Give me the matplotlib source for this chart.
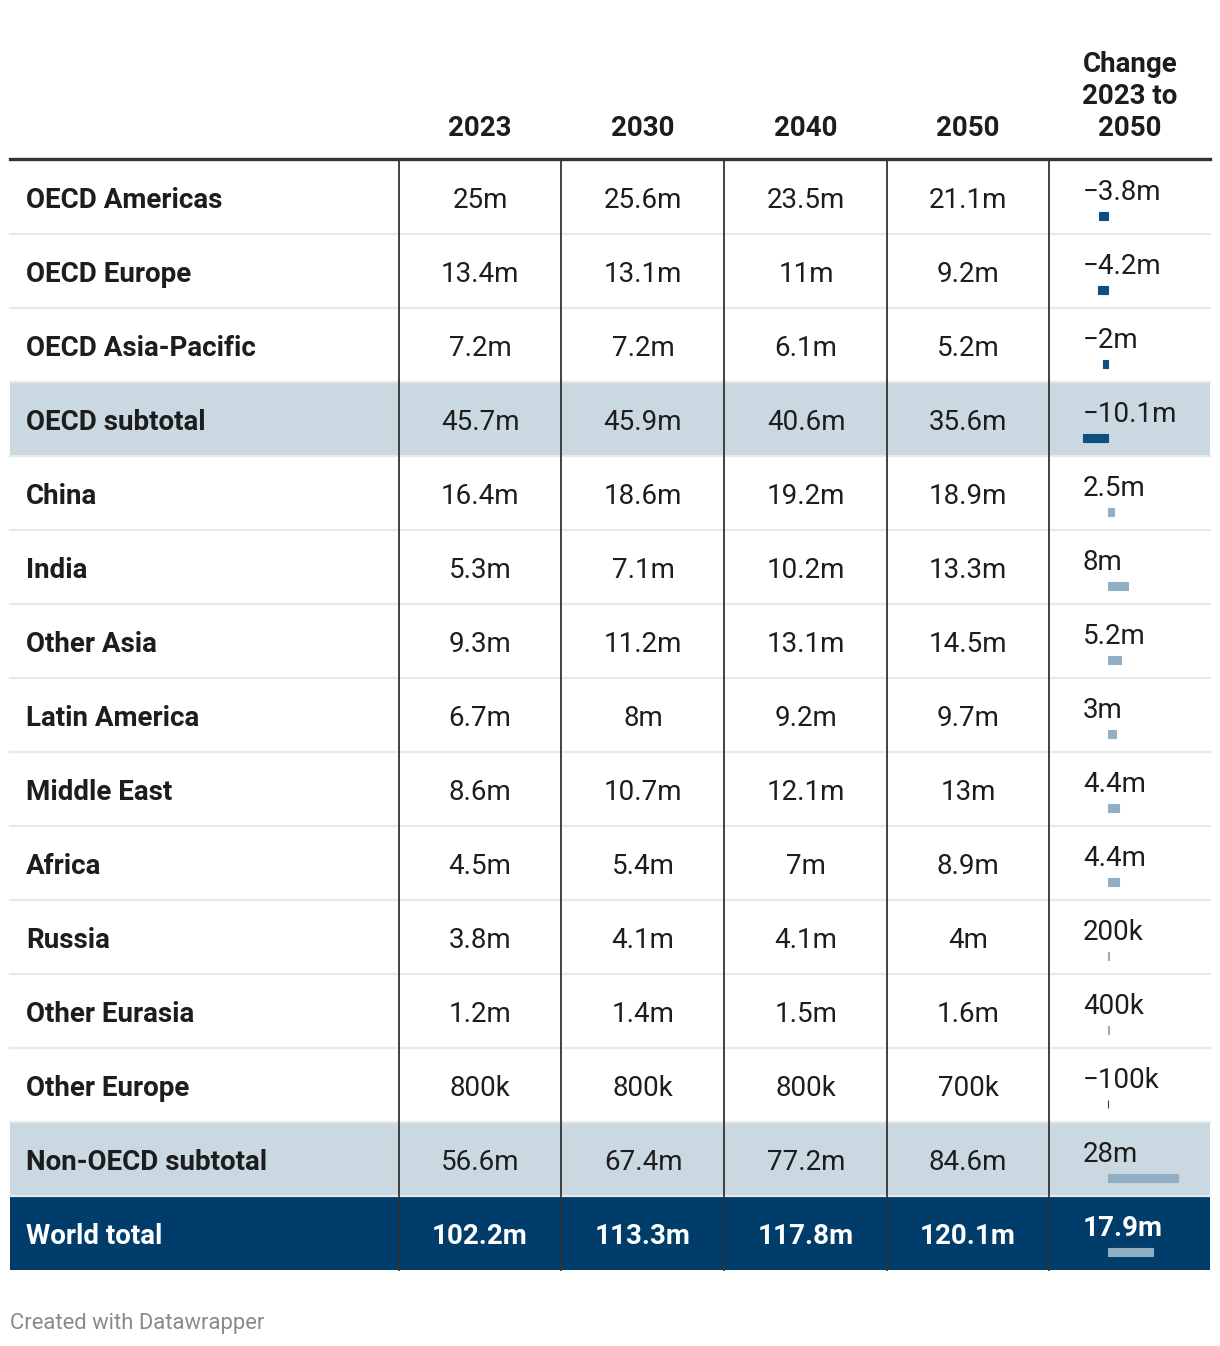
import matplotlib.pyplot
import matplotlib.patches
import numpy

regions = [
	"OECD Americas", "OECD Europe", "OECD Asia-Pacific", "OECD subtotal",
	"China", "India", "Other Asia", "Latin America", "Middle East", "Africa",
	"Russia", "Other Eurasia", "Other Europe", "Non-OECD subtotal", "World total",
]
years = ["2023", "2030", "2040", "2050"]
values = [
	["25m", "25.6m", "23.5m", "21.1m"],
	["13.4m", "13.1m", "11m", "9.2m"],
	["7.2m", "7.2m", "6.1m", "5.2m"],
	["45.7m", "45.9m", "40.6m", "35.6m"],
	["16.4m", "18.6m", "19.2m", "18.9m"],
	["5.3m", "7.1m", "10.2m", "13.3m"],
	["9.3m", "11.2m", "13.1m", "14.5m"],
	["6.7m", "8m", "9.2m", "9.7m"],
	["8.6m", "10.7m", "12.1m", "13m"],
	["4.5m", "5.4m", "7m", "8.9m"],
	["3.8m", "4.1m", "4.1m", "4m"],
	["1.2m", "1.4m", "1.5m", "1.6m"],
	["800k", "800k", "800k", "700k"],
	["56.6m", "67.4m", "77.2m", "84.6m"],
	["102.2m", "113.3m", "117.8m", "120.1m"],
]
change = [-3.8, -4.2, -2.0, -10.1, 2.5, 8.0, 5.2, 3.0, 4.4, 4.4, 0.2, 0.4, -0.1, 28.0, 17.9]
change_labels = [
	"\u22123.8m", "\u22124.2m", "\u22122m", "\u221210.1m", "2.5m", "8m", "5.2m", "3m",
	"4.4m", "4.4m", "200k", "400k", "\u2212100k", "28m", "17.9m",
]
subtotal_rows = [3, 13]
total_row = 14


class Main:
	def __init__(self):
		self.width = 1220
		self.height = 1346
		self.left = 10
		self.right = 1210
		self.top = 160
		self.row_h = 74
		self.dividers = [399, 561, 724, 887, 1049]
		self.centers = [480, 643, 806, 968]
		self.zero_x = 1108
		self.px_per_m = 2.5
		self.fs = 20

		self.figure = None
		self.axes = None
		self.visualize()

	def row_center(self, i):
		return self.top + self.row_h * i + self.row_h / 2 + 4

	def visualize(self):
		matplotlib.pyplot.rcParams["font.family"] = ["Roboto", "DejaVu Sans"]
		self.figure = matplotlib.pyplot.figure(figsize = (self.width / 100, self.height / 100), dpi = 100)
		axes = self.figure.add_axes([0, 0, 1, 1])
		axes.set_xlim(0, self.width)
		axes.set_ylim(self.height, 0)
		axes.axis("off")
		self.axes = axes

		# header
		for j, y in enumerate(years):
			axes.text(self.centers[j], 129, y, ha = "center", va = "center", fontsize = self.fs, fontweight = "bold", color = "#1d1d1d")
		for k, line in enumerate(["Change", "2023 to", "2050"]):
			axes.text(1130, 65 + 32 * k, line, ha = "center", va = "center", fontsize = self.fs, fontweight = "bold", color = "#1d1d1d")

		bottom = self.top + self.row_h * len(regions)

		# row backgrounds and separators
		for i in range(len(regions)):
			y0 = self.top + self.row_h * i
			if i in subtotal_rows:
				axes.add_patch(matplotlib.patches.Rectangle((self.left, y0), self.right - self.left, self.row_h, facecolor = "#c9d8e1", edgecolor = "none", zorder = 0))
			elif i == total_row:
				axes.add_patch(matplotlib.patches.Rectangle((self.left, y0), self.right - self.left, self.row_h, facecolor = "#003d6b", edgecolor = "none", zorder = 0))
			if i > 0:
				axes.plot([self.left, self.right], [y0, y0], color = "#e9e9e9", linewidth = 1.6, zorder = 1)

		for x in self.dividers:
			axes.plot([x, x], [self.top, bottom], color = "#333333", linewidth = 1.3, zorder = 2)
		axes.plot([self.left, self.right], [self.top - 1, self.top - 1], color = "#333333", linewidth = 2.4, zorder = 3)

		# cell text
		for i, name in enumerate(regions):
			yc = self.row_center(i)
			is_total = i == total_row
			color = "white" if is_total else "#1d1d1d"
			axes.text(26, yc, name, ha = "left", va = "center", fontsize = self.fs, fontweight = "bold", color = color)
			for j, v in enumerate(values[i]):
				axes.text(self.centers[j], yc, v, ha = "center", va = "center", fontsize = self.fs,
					fontweight = "bold" if is_total else "normal", color = color)
			axes.text(1083, yc - 8, change_labels[i], ha = "left", va = "center", fontsize = self.fs,
				fontweight = "bold" if is_total else "normal", color = color)

		# change bars in their own axes, in millions
		x0 = 1050
		x1 = 1210
		bar_axes = self.figure.add_axes([x0 / self.width, 1 - bottom / self.height, (x1 - x0) / self.width, (bottom - self.top) / self.height])
		bar_axes.set_xlim(-(self.zero_x - x0) / self.px_per_m, (x1 - self.zero_x) / self.px_per_m)
		bar_axes.set_ylim(len(regions), 0)
		bar_axes.axis("off")
		bar_axes.patch.set_alpha(0)
		pos = numpy.arange(len(regions)) + 0.5 + 19 / self.row_h
		colors = ["#0e4f82" if c < 0 else "#92aec3" for c in change]
		bar_axes.barh(pos, change, height = 8 / self.row_h, color = colors, edgecolor = colors, linewidth = 0.8)

		# footer
		axes.text(10, 1324, "Created with Datawrapper", ha = "left", va = "center", fontsize = 15.8, color = "#8a8a8a")

		self.figure.savefig("out.png", dpi = 100)


if __name__ == "__main__":
	main = Main()
